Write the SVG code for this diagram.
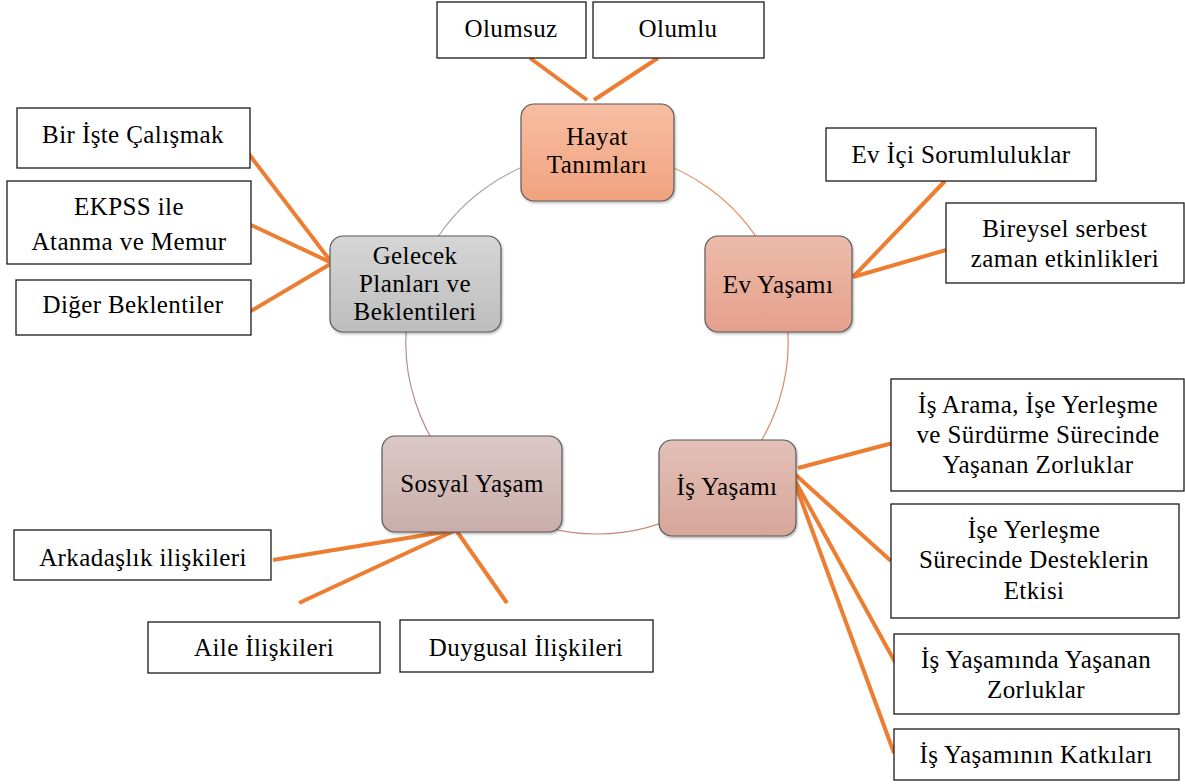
<svg xmlns="http://www.w3.org/2000/svg" width="1185" height="784" viewBox="0 0 1185 784">
<style>
text{font-family:"Liberation Serif","Times New Roman",serif;font-size:25px;letter-spacing:0.4px;fill:#000;text-anchor:middle}
.leaf rect{fill:#fff;stroke:#1a1a1a;stroke-width:1.3}
.node rect{stroke:#5a5a5a;stroke-width:1.2;filter:url(#sh)}
.arc{fill:none;stroke-width:1.2}
.ln{stroke:#ED7D31;stroke-width:4;stroke-linecap:butt}
</style>
<defs>
<filter id="sh" x="-10%" y="-10%" width="125%" height="130%">
<feDropShadow dx="1" dy="1.5" stdDeviation="1.2" flood-color="#000" flood-opacity="0.3"/>
</filter>
<linearGradient id="gH" x1="0" y1="0" x2="0" y2="1"><stop offset="0" stop-color="#F6BEA3"/><stop offset="1" stop-color="#F2A27E"/></linearGradient>
<linearGradient id="gE" x1="0" y1="0" x2="0" y2="1"><stop offset="0" stop-color="#EDBBAA"/><stop offset="1" stop-color="#E4A08C"/></linearGradient>
<linearGradient id="gI" x1="0" y1="0" x2="0" y2="1"><stop offset="0" stop-color="#E3C0B8"/><stop offset="1" stop-color="#D7A698"/></linearGradient>
<linearGradient id="gS" x1="0" y1="0" x2="0" y2="1"><stop offset="0" stop-color="#DBC9C7"/><stop offset="1" stop-color="#C9ADAB"/></linearGradient>
<linearGradient id="gG" x1="0" y1="0" x2="0" y2="1"><stop offset="0" stop-color="#D6D6D6"/><stop offset="1" stop-color="#BDBDBD"/></linearGradient>
</defs>
<rect width="1185" height="784" fill="#fff"/>

<g id="cycle">
<path class="arc" stroke="#EE8E5E" d="M597,152 A191,191 0 0 1 778.65,283.98"/>
<path class="arc" stroke="#DC8A6C" d="M778.65,283.98 A191,191 0 0 1 709.27,497.52"/>
<path class="arc" stroke="#C98270" d="M709.27,497.52 A191,191 0 0 1 484.73,497.52"/>
<path class="arc" stroke="#B48E8C" d="M484.73,497.52 A191,191 0 0 1 415.35,283.98"/>
<path class="arc" stroke="#A8A8A8" d="M415.35,283.98 A191,191 0 0 1 597,152"/>
</g>

<g id="connectors">
<line class="ln" x1="530" y1="58" x2="587" y2="100"/>
<line class="ln" x1="658" y1="58" x2="594" y2="100"/>
<line class="ln" x1="245" y1="149" x2="332" y2="263"/>
<line class="ln" x1="251" y1="225" x2="332" y2="263"/>
<line class="ln" x1="251" y1="311" x2="332" y2="263"/>
<line class="ln" x1="945" y1="181" x2="853" y2="277"/>
<line class="ln" x1="946" y1="250" x2="853" y2="277"/>
<line class="ln" x1="798" y1="468" x2="893" y2="443"/>
<line class="ln" x1="788" y1="468" x2="891" y2="561"/>
<line class="ln" x1="788" y1="468" x2="895" y2="662"/>
<line class="ln" x1="790" y1="470" x2="894" y2="753"/>
<line class="ln" x1="273" y1="560" x2="456" y2="530"/>
<line class="ln" x1="299" y1="603" x2="456" y2="530"/>
<line class="ln" x1="507" y1="603" x2="456" y2="530"/>
</g>

<g id="node-hayat" class="node">
<rect x="521" y="104" width="153" height="97" rx="13" fill="url(#gH)"/>
<text x="597" y="145">Hayat</text>
<text x="597" y="173">Tanımları</text>
</g>
<g id="node-ev" class="node">
<rect x="705" y="236" width="147" height="96" rx="13" fill="url(#gE)"/>
<text x="778" y="293">Ev Yaşamı</text>
</g>
<g id="node-is" class="node">
<rect x="659" y="440" width="137" height="96" rx="13" fill="url(#gI)"/>
<text x="727" y="495">İş Yaşamı</text>
</g>
<g id="node-sosyal" class="node">
<rect x="382" y="436" width="180" height="96" rx="13" fill="url(#gS)"/>
<text x="472" y="492">Sosyal Yaşam</text>
</g>
<g id="node-gelecek" class="node">
<rect x="330" y="236" width="171" height="96" rx="13" fill="url(#gG)"/>
<text x="415" y="264">Gelecek</text>
<text x="415" y="292">Planları ve</text>
<text x="415" y="320">Beklentileri</text>
</g>

<g id="leaf-olumsuz" class="leaf">
<rect x="437" y="2" width="149" height="56"/>
<text x="511" y="37">Olumsuz</text>
</g>
<g id="leaf-olumlu" class="leaf">
<rect x="593" y="2" width="171" height="56"/>
<text x="678" y="37">Olumlu</text>
</g>
<g id="leaf-bir" class="leaf">
<rect x="17" y="108" width="233" height="60"/>
<text x="133" y="143">Bir İşte Çalışmak</text>
</g>
<g id="leaf-ekpss" class="leaf">
<rect x="7" y="181" width="244" height="83"/>
<text x="129" y="215">EKPSS ile</text>
<text x="129" y="250">Atanma ve Memur</text>
</g>
<g id="leaf-diger" class="leaf">
<rect x="16" y="280" width="235" height="55"/>
<text x="133" y="313">Diğer Beklentiler</text>
</g>
<g id="leaf-evici" class="leaf">
<rect x="826" y="128" width="270" height="53"/>
<text x="961" y="163">Ev İçi Sorumluluklar</text>
</g>
<g id="leaf-bireysel" class="leaf">
<rect x="946" y="203" width="238" height="80"/>
<text x="1065" y="237">Bireysel serbest</text>
<text x="1065" y="267">zaman etkinlikleri</text>
</g>
<g id="leaf-isarama" class="leaf">
<rect x="891" y="379" width="293" height="112"/>
<text x="1038" y="413">İş Arama, İşe Yerleşme</text>
<text x="1038" y="443">ve Sürdürme Sürecinde</text>
<text x="1038" y="473">Yaşanan Zorluklar</text>
</g>
<g id="leaf-iseyer" class="leaf">
<rect x="891" y="504" width="288" height="114"/>
<text x="1034" y="538">İşe Yerleşme</text>
<text x="1034" y="568">Sürecinde Desteklerin</text>
<text x="1034" y="599">Etkisi</text>
</g>
<g id="leaf-isyasaminda" class="leaf">
<rect x="894" y="634" width="285" height="80"/>
<text x="1036" y="668">İş Yaşamında Yaşanan</text>
<text x="1036" y="698">Zorluklar</text>
</g>
<g id="leaf-katki" class="leaf">
<rect x="894" y="729" width="285" height="51"/>
<text x="1036" y="763">İş Yaşamının Katkıları</text>
</g>
<g id="leaf-arkadas" class="leaf">
<rect x="14" y="530" width="257" height="50"/>
<text x="143" y="566">Arkadaşlık ilişkileri</text>
</g>
<g id="leaf-aile" class="leaf">
<rect x="148" y="622" width="232" height="51"/>
<text x="264" y="656">Aile İlişkileri</text>
</g>
<g id="leaf-duygusal" class="leaf">
<rect x="400" y="620" width="253" height="52"/>
<text x="526" y="656">Duygusal İlişkileri</text>
</g>
</svg>
